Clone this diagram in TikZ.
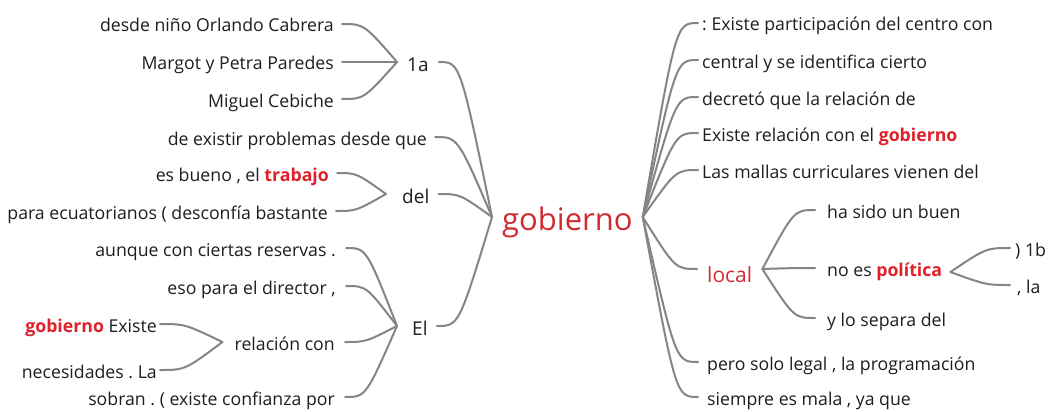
\documentclass[tikz,border=0pt]{standalone}
\usepackage{fontspec}
\setmainfont{Open Sans}
\usetikzlibrary{calc}
\frenchspacing
\definecolor{lc}{HTML}{858585}
\definecolor{tred}{HTML}{D22A33}
\definecolor{bred}{HTML}{E0202A}
\definecolor{tx}{HTML}{1E1E1E}
\newcommand\hl[1]{{\bfseries\color{bred}#1}}
\newcommand\linkL[2]{\draw[conn] (#1) .. controls ($(#1)!0.4!(#1 -| #2)$) .. (#2);}
\newcommand\linkR[2]{\draw[conn] (#1) .. controls ($(#2)!0.4!(#2 -| #1)$) .. (#2);}
\tikzset{
  conn/.style={draw=lc, line width=2pt, line cap=round},
  t/.style={font=\fontsize{17.7}{20}\selectfont, text=tx, inner ysep=0pt, inner xsep=8pt, text height=16pt, text depth=0pt},
  lt/.style={t, anchor=east},
  rt/.style={t, anchor=west, inner xsep=4pt},
  mid/.style={font=\fontsize{19}{22}\selectfont, text=tx, inner ysep=0pt, inner xsep=9pt, text height=18pt, text depth=0pt},
  root/.style={font=\fontsize{31}{36}\selectfont, text=tred, inner ysep=0pt, inner xsep=10pt, text height=26pt, text depth=0pt, anchor=west},
}
\begin{document}
\begin{tikzpicture}[x=1pt,y=-1pt]
\useasboundingbox[fill=white] (0,0) rectangle (1057,412);
% root
\node[root] (gob) at (492,217) {gobierno};
% left side
\node[mid, anchor=west, inner xsep=10pt] (a1) at (397,62) {1a};
\node[lt] (desde) at (342,24) {desde niño Orlando Cabrera};
\node[lt] (margot) at (342,62) {Margot y Petra Paredes};
\node[lt] (miguel) at (342,99) {Miguel Cebiche};
\node[lt] (existir) at (435,137) {de existir problemas desde que};
\node[mid, anchor=west] (del) at (393,194) {del};
\coordinate (delin) at ([xshift=-7pt]del.west);
\node[lt] (bueno) at (337,173) {es bueno , el \hl{trabajo}};
\node[lt] (para) at (336,211) {para ecuatorianos ( desconfía bastante};
\node[mid, anchor=west] (el) at (403,326) {El};
\coordinate (elin) at ([xshift=-6pt]el.west);
\node[lt, inner xsep=10pt] (aunque) at (346,248) {aunque con ciertas reservas .};
\node[lt, inner xsep=10pt] (eso) at (346,286) {eso para el director ,};
\node[lt, inner xsep=10pt] (relcon) at (345,342) {relación con};
\node[lt, inner xsep=10pt] (sobran) at (345,397) {sobran . ( existe confianza por};
\coordinate (relin) at ([xshift=-2pt]relcon.west);
\node[lt, inner xsep=3pt] (gobex) at (160,324) {\hl{gobierno} Existe};
\node[lt, inner xsep=3pt] (neces) at (160,370) {necesidades . La};
% right side
\node[rt] (r1) at (698,23) {: Existe participación del centro con};
\node[rt] (r2) at (698,60) {central y se identifica cierto};
\node[rt] (r3) at (698,97) {decretó que la relación de};
\node[rt] (r4) at (698,133) {Existe relación con el \hl{gobierno}};
\node[rt] (r5) at (698,170) {Las mallas curriculares vienen del};
\node[root, font=\fontsize{21}{24}\selectfont, inner xsep=10pt, text height=26pt] (local) at (697,269) {local};
\node[rt, inner xsep=12pt] (hasido) at (815,210) {ha sido un buen};
\node[rt, inner xsep=12pt] (pol) at (815,268) {no es \hl{política}};
\coordinate (polout) at ([yshift=-4pt,xshift=-4pt]pol.east);
\node[rt, inner xsep=12pt] (separa) at (815,318) {y lo separa del};
\node[rt, inner xsep=5pt] (b1) at (1010,248) {) 1b};
\node[rt, inner xsep=7pt] (la) at (1010,285) {, la};
\node[rt, inner xsep=9pt] (pero) at (698,362) {pero solo legal , la programación};
\node[rt, inner xsep=9pt] (siempre) at (698,397) {siempre es mala , ya que};
% connectors left
\linkL{desde.east}{a1.west}
\linkL{margot.east}{a1.west}
\linkL{miguel.east}{a1.west}
\linkL{bueno.east}{delin}
\linkL{para.east}{delin}
\linkL{gobex.east}{relin}
\linkL{neces.east}{relin}
\linkL{aunque.east}{elin}
\linkL{eso.east}{elin}
\linkL{relcon.east}{elin}
\linkL{sobran.east}{elin}
\linkL{a1.east}{gob.west}
\linkL{existir.east}{gob.west}
\linkL{del.east}{gob.west}
\linkL{el.east}{gob.west}
% connectors right
\linkR{gob.east}{r1.west}
\linkR{gob.east}{r2.west}
\linkR{gob.east}{r3.west}
\linkR{gob.east}{r4.west}
\linkR{gob.east}{r5.west}
\linkR{gob.east}{local.west}
\linkR{gob.east}{pero.west}
\linkR{gob.east}{siempre.west}
\linkR{local.east}{hasido.west}
\linkR{local.east}{pol.west}
\linkR{local.east}{separa.west}
\linkR{polout}{b1.west}
\linkR{polout}{la.west}
\end{tikzpicture}
\end{document}
